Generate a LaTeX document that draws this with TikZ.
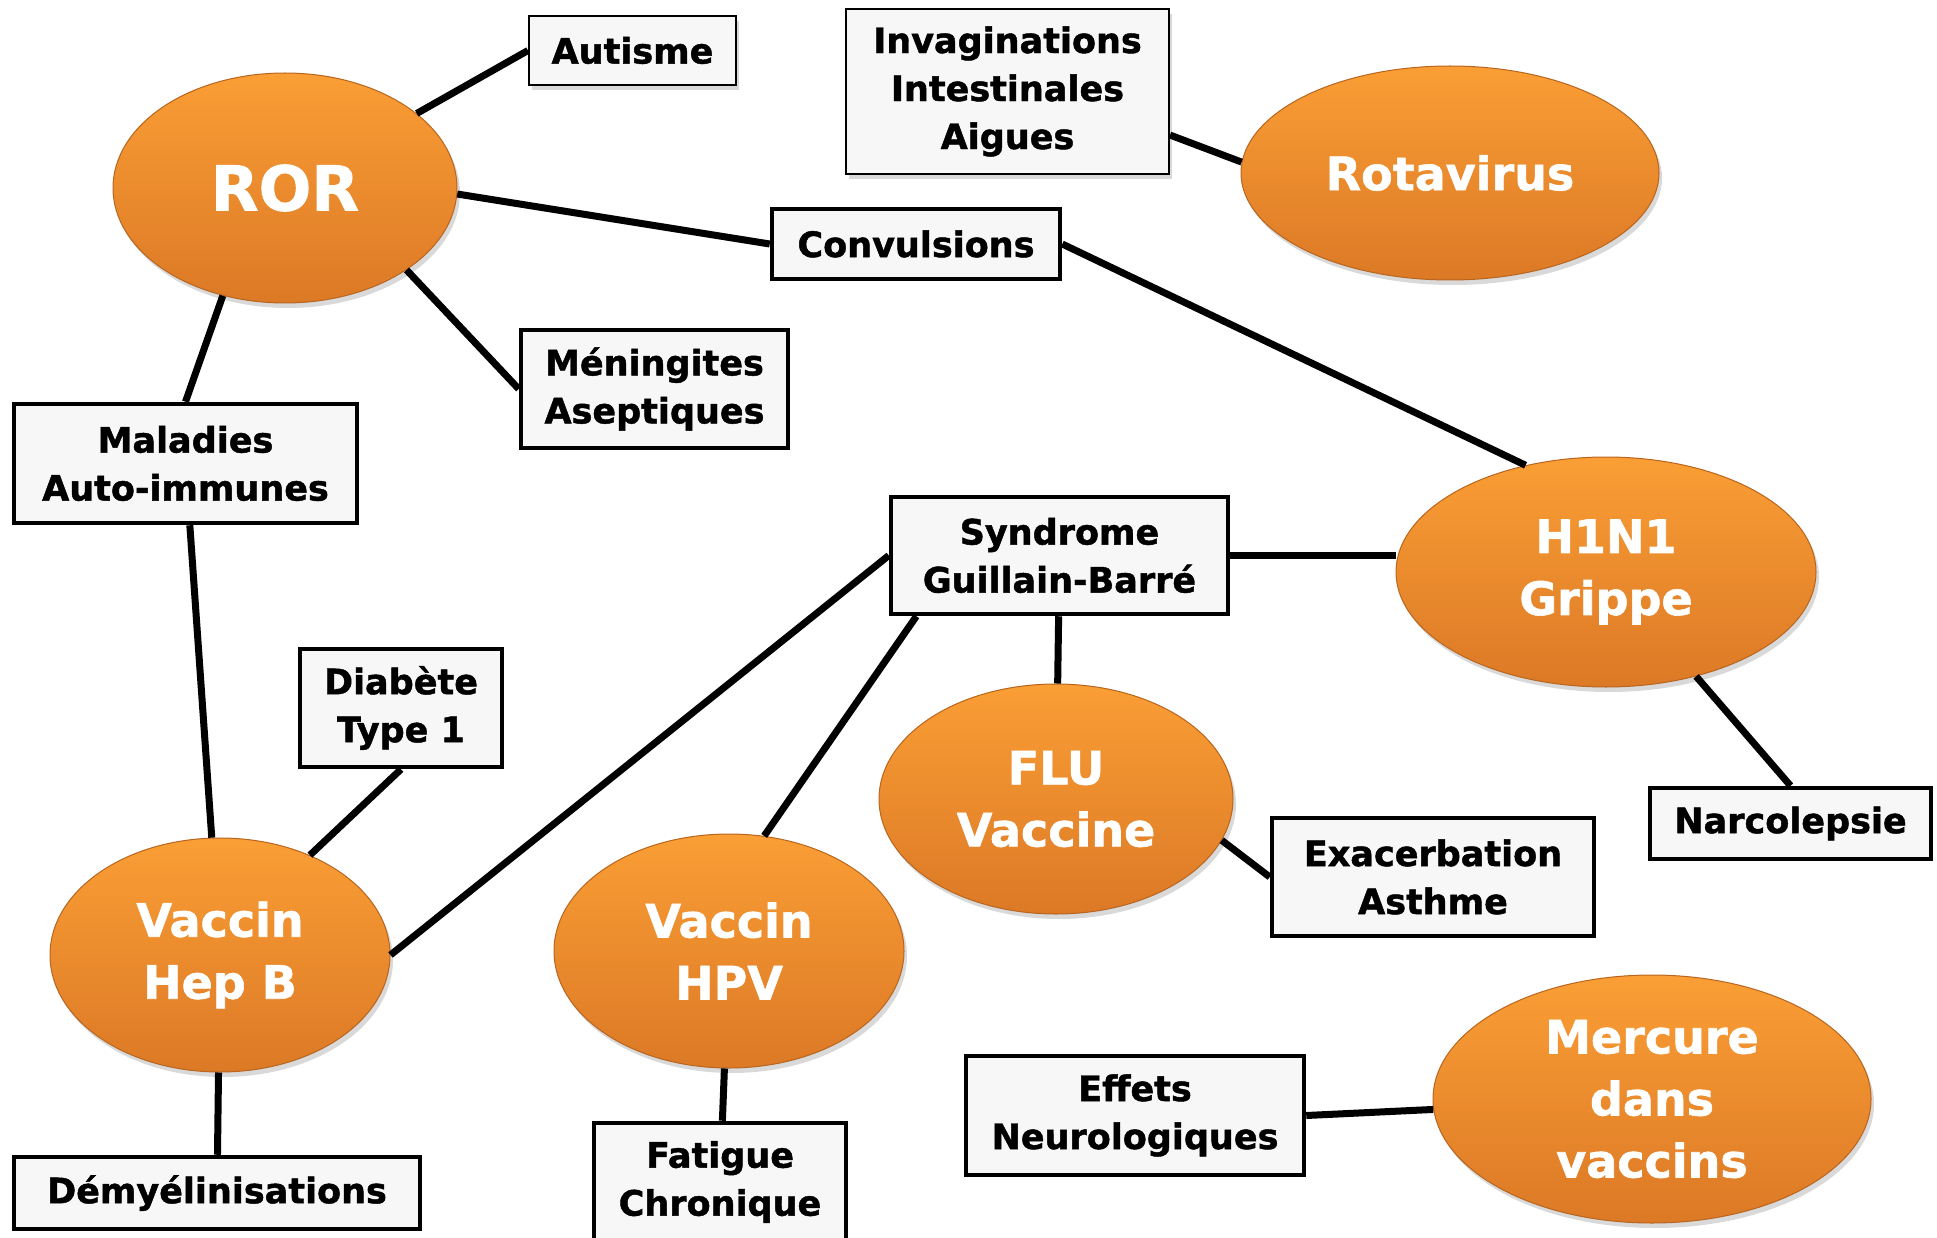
\documentclass[tikz,border=0pt]{standalone}
\usepackage{fontspec}
\setmainfont{DejaVu Sans}[BoldFeatures={FakeBold=1.3}]
\usepackage{tikz}
\usepackage{xcolor}
\usetikzlibrary{shapes.geometric,shadows}
\definecolor{ortop}{HTML}{FA9E35}
\definecolor{orbot}{HTML}{DC7926}
\definecolor{orline}{HTML}{B8651F}
\definecolor{boxfill}{HTML}{F7F7F7}

\begin{document}
\begin{tikzpicture}[x=1pt, y=-1pt,
    vaccin/.style={ellipse, top color=ortop, bottom color=orbot, draw=orline, line width=1pt,
        inner sep=0pt, text=white, align=center, font=\bfseries\fontsize{46}{62}\selectfont,
        drop shadow={opacity=0.3, shadow xshift=3pt, shadow yshift=-5pt}},
    effet/.style={rectangle, fill=boxfill, draw=black, line width=4.5pt, inner sep=0pt,
        align=center, font=\bfseries\fontsize{35}{48}\selectfont},
    lite/.style={line width=2pt, drop shadow={opacity=0.3, shadow xshift=3pt, shadow yshift=-5pt}},
    link/.style={line width=7pt}]
            \useasboundingbox (0,0) rectangle (1937,1238);
            \node[vaccin, minimum width=344pt, minimum height=230pt, font=\bfseries\fontsize{62}{70}\selectfont] (ror) at (285,188) {ROR};
            \node[vaccin, minimum width=418pt, minimum height=214pt] (rota) at (1450,173) {Rotavirus};
            \node[vaccin, minimum width=420pt, minimum height=230pt] (h1n1) at (1606,572) {H1N1\\Grippe};
            \node[vaccin, minimum width=354pt, minimum height=230pt] (flu) at (1056,799) {FLU\\Vaccine};
            \node[vaccin, minimum width=340pt, minimum height=234pt] (hepb) at (220,955) {Vaccin\\Hep B};
            \node[vaccin, minimum width=350pt, minimum height=234pt] (hpv) at (729,951) {Vaccin\\HPV};
            \node[vaccin, minimum width=438pt, minimum height=248pt] (mer) at (1652,1099) {Mercure\\dans\\vaccins};

            \node[effet, lite, minimum width=207pt, minimum height=69pt] (aut) at (632.5,50.5) {Autisme};
            \node[effet, lite, minimum width=323pt, minimum height=165pt] (inv) at (1007.5,91.5) {Invaginations\\Intestinales\\Aigues};
            \node[effet, minimum width=288pt, minimum height=70pt] (conv) at (916,244) {Convulsions};
            \node[effet, minimum width=267pt, minimum height=118pt] (men) at (654.5,389) {Méningites\\Aseptiques};
            \node[effet, minimum width=343pt, minimum height=119pt] (mal) at (185.5,463.5) {Maladies\\Auto-immunes};
            \node[effet, minimum width=337pt, minimum height=117pt] (syn) at (1059.5,555.5) {Syndrome\\Guillain-Barré};
            \node[effet, minimum width=281pt, minimum height=71pt] (nar) at (1790.5,823.5) {Narcolepsie};
            \node[effet, minimum width=322pt, minimum height=118pt] (exa) at (1433,877) {Exacerbation\\Asthme};
            \node[effet, minimum width=202pt, minimum height=118pt] (dia) at (401,708) {Diabète\\Type 1};
            \node[effet, minimum width=406pt, minimum height=72pt] (dem) at (217,1193) {Démyélinisations};
            \node[effet, minimum width=252pt, minimum height=118pt] (fat) at (720,1182) {Fatigue\\Chronique};
            \node[effet, minimum width=338pt, minimum height=119pt] (eff) at (1135,1115.5) {Effets\\Neurologiques};

            \draw[link] (ror) -- (aut.west);
            \draw[link] (ror.-2) -- (conv.west);
            \draw[link] (ror.-34) -- (men.west);
            \draw[link] (ror.240) -- (mal.north);
            \draw[link] (mal) -- (hepb);
            \draw[link] (inv.-15) -- (rota.177);
            \draw[link] (conv.east) -- (h1n1.127);
            \draw[link] (syn.east) -- (syn.east -| h1n1.west);
            \draw[link] (syn) -- (flu);
            \draw[link] (syn.west) -- (hepb.east);
            \draw[link] (syn.203) -- (hpv.73);
            \draw[link] (h1n1) -- (nar.north);
            \draw[link] (flu.-14) -- (exa.west);
            \draw[link] (dia.south) -- (hepb.48);
            \draw[link] (hepb) -- (dem);
            \draw[link] (hpv) -- (fat);
            \draw[link] (eff.east) -- (mer);
        \end{tikzpicture}
\end{document}
